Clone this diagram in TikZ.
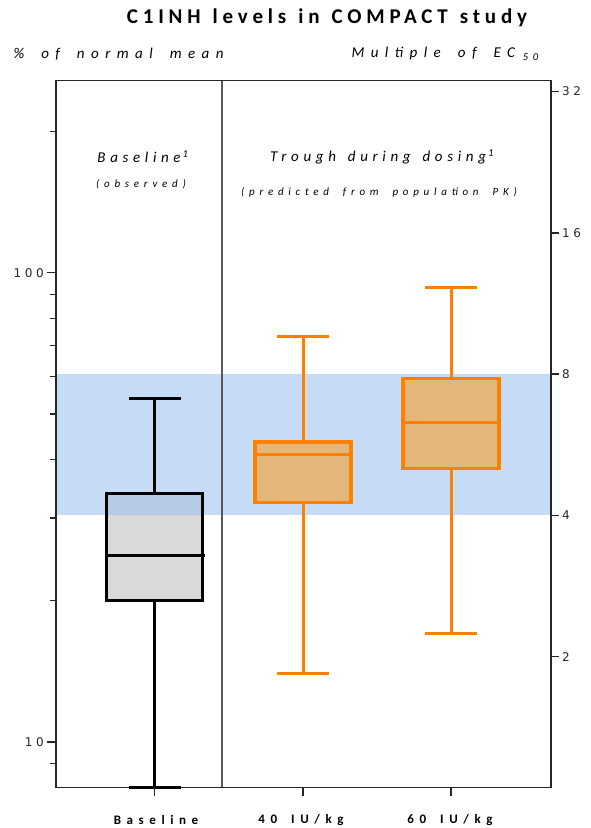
\documentclass[tikz,border=0pt]{standalone}
\usepackage{fontspec}
\setmainfont{Carlito}
\newfontfamily\ttlfont[LetterSpace=23]{Carlito}
\newfontfamily\hdfont[LetterSpace=31]{Carlito}
\newfontfamily\widefont[LetterSpace=43]{Carlito}
\newfontfamily\numfont[LetterSpace=30]{DejaVu Sans}
\definecolor{bandblue}{RGB}{160,195,240}
\definecolor{boxgray}{RGB}{217,217,217}
\definecolor{boxtan}{RGB}{227,183,122}
\definecolor{ivorange}{RGB}{255,128,0}

\begin{document}
\begin{tikzpicture}[x=1pt,y=1pt,
    declare function={lv(\v)=86+469.3*(log10(\v)-1);},
    axisline/.style={line width=1.6pt,black!85},
    tickmark/.style={line width=1.3pt,black!85},
    whisk/.style={line width=3pt},
    boxline/.style={line width=3.2pt},
    medline/.style={line width=2.5pt},
    wordgap/.style={execute at begin node={\spaceskip=#1\relax}},
    ttl/.style={font=\fontsize{21}{25}\ttlfont\bfseries,wordgap=12pt},
    axtitle/.style={font=\fontsize{15}{18}\widefont\itshape,wordgap=17pt,anchor=west},
    hd/.style={font=\fontsize{15}{18}\hdfont\itshape,wordgap=12pt},
    subhd/.style={font=\fontsize{11}{13}\widefont\itshape,wordgap=14pt},
    ticklab/.style={font=\fontsize{12}{14}\numfont,inner sep=2.5pt},
    catlab/.style={font=\fontsize{13}{16}\widefont\bfseries,wordgap=14pt}]
  \useasboundingbox (0,0) rectangle (590,828);
  % fills first, the band lies over the grey box
  \fill[boxgray] (106.5,{lv(20)}) rectangle (202.5,{lv(33.8)});
  \fill[bandblue,fill opacity=0.6] (56,{lv(30.4)}) rectangle (551,{lv(60.8)});
  \fill[boxtan] (255,{lv(32.4)}) rectangle (351,{lv(43.6)});
  \fill[boxtan] (403,{lv(38.2)}) rectangle (499,{lv(59.5)});
  % frame, divider and ticks
  \draw[line width=1.1pt,black!65] (222,{lv(8)}) -- (222,747.3);
  \draw[axisline] (56,{lv(8)}) rectangle (551,747.3);
  \foreach \v in {9,20,30,40,50,60,70,80,90,200}
    \draw[tickmark] (56,{lv(\v)}) -- ++(-6,0);
  \foreach \v in {10,100}
    \draw[tickmark] (56,{lv(\v)}) -- ++(-9,0) node[left,ticklab] (l\v) {\v};
  \foreach \m in {2,4,8,16,32}
    \draw[tickmark] (551,{lv(7.6*\m)}) -- ++(8,0) node[right,ticklab] (r\m) {\m};
  % boxes: centre/low/q1/median/q3/high/colour
  \foreach \cx/\wlo/\qlo/\med/\qhi/\whi/\col in
      {154.5/8/20/25/33.8/54/black, 303/14/32.4/41/43.6/73/ivorange,
       451/17/38.2/48/59.5/93/ivorange}{
    \draw[whisk,\col] (\cx,{lv(\wlo)}) -- (\cx,{lv(\qlo)})
                      (\cx,{lv(\qhi)}) -- (\cx,{lv(\whi)});
    \draw[whisk,\col] (\cx-26,{lv(\wlo)}) -- (\cx+26,{lv(\wlo)})
                      (\cx-26,{lv(\whi)}) -- (\cx+26,{lv(\whi)});
    \draw[boxline,\col] (\cx-48,{lv(\qlo)}) rectangle (\cx+48,{lv(\qhi)});
    \draw[medline,\col] (\cx-50,{lv(\med)}) -- (\cx+50,{lv(\med)});
    \draw[tickmark] (\cx,{lv(8)}) -- ++(0,-9);
  }
  % texts
  \node[ttl] (title) at (327,810) {C1INH levels in COMPACT study};
  \node[axtitle] (ylabL) at (10,774) {\% of normal mean};
  \node[axtitle] (ylabR) at (348,774) {Multiple of EC\hspace{8pt}\textsubscript{50}};
  \node[hd] (hdBase) at (143,671) {Baseline\hspace{2pt}\textsuperscript{1}};
  \node[subhd] (subBase) at (141,644) {(observed)};
  \node[hd] (hdTrough) at (382,671) {Trough during dosing\hspace{2pt}\textsuperscript{1}};
  \node[subhd] (subTrough) at (379,636) {(predicted from population PK)};
  \node[catlab] (cBase) at (156,8) {Baseline};
  \node[catlab] (c40) at (301,8) {40 IU/kg};
  \node[catlab] (c60) at (450,8) {60 IU/kg};
\end{tikzpicture}
\end{document}
